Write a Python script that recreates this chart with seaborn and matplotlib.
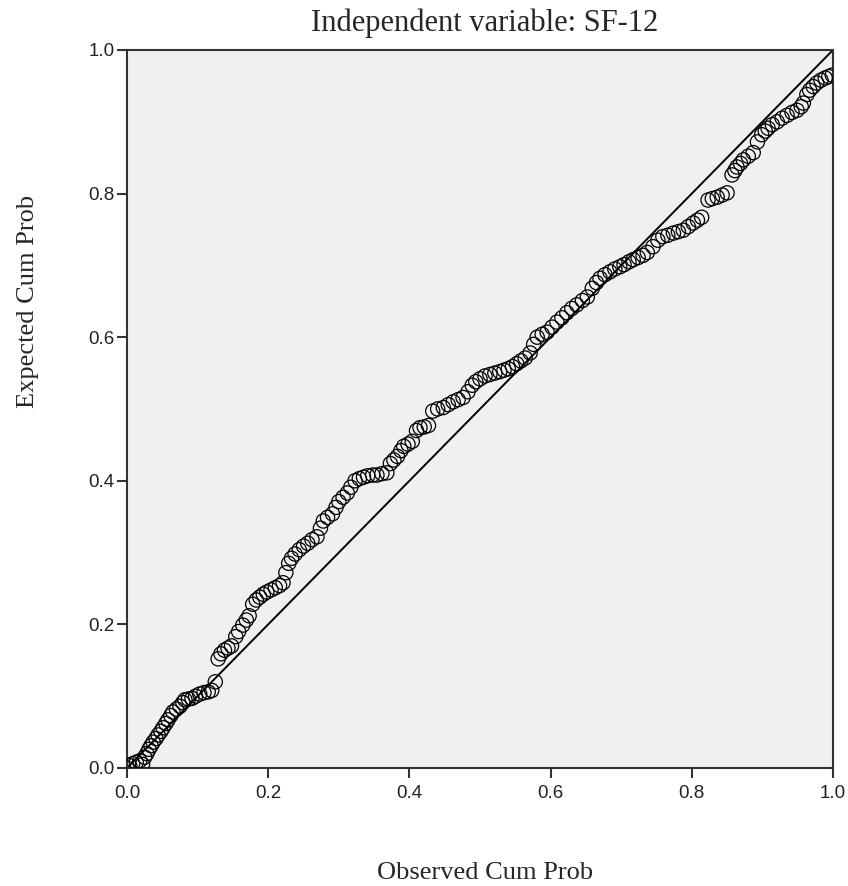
import matplotlib
matplotlib.use("Agg")
import matplotlib.pyplot as plt
import seaborn as sns

# P-P plot values
observed = [
    0.000, 0.004, 0.008, 0.013, 0.018, 0.022, 0.025, 0.028, 0.031, 0.034,
    0.037, 0.041, 0.044, 0.048, 0.051, 0.055, 0.058, 0.062, 0.065, 0.070,
    0.075, 0.079, 0.082, 0.087, 0.092, 0.097, 0.103, 0.109, 0.115, 0.120,
    0.125, 0.129, 0.133, 0.138, 0.143, 0.148, 0.154, 0.158, 0.164, 0.169,
    0.173, 0.178, 0.183, 0.188, 0.193, 0.198, 0.204, 0.210, 0.216, 0.221,
    0.225, 0.229, 0.233, 0.238, 0.244, 0.250, 0.256, 0.262, 0.269, 0.274,
    0.278, 0.284, 0.291, 0.296, 0.300, 0.306, 0.312, 0.317, 0.323, 0.329,
    0.335, 0.341, 0.348, 0.354, 0.361, 0.368, 0.373, 0.378, 0.383, 0.388,
    0.392, 0.398, 0.404, 0.410, 0.415, 0.421, 0.427, 0.433, 0.440, 0.448,
    0.455, 0.462, 0.469, 0.476, 0.483, 0.489, 0.494, 0.500, 0.507, 0.514,
    0.521, 0.528, 0.534, 0.540, 0.546, 0.552, 0.558, 0.564, 0.571, 0.576,
    0.581, 0.588, 0.595, 0.602, 0.609, 0.616, 0.623, 0.630, 0.637, 0.645,
    0.652, 0.659, 0.665, 0.670, 0.677, 0.684, 0.691, 0.698, 0.704, 0.711,
    0.717, 0.724, 0.731, 0.737, 0.745, 0.752, 0.759, 0.766, 0.774, 0.781,
    0.788, 0.795, 0.802, 0.808, 0.814, 0.823, 0.829, 0.836, 0.843, 0.850,
    0.857, 0.861, 0.864, 0.869, 0.873, 0.880, 0.887, 0.893, 0.899, 0.904,
    0.908, 0.914, 0.921, 0.928, 0.935, 0.942, 0.949, 0.955, 0.958, 0.963,
    0.967, 0.972, 0.977, 0.983, 0.989, 0.994, 0.999,
]
expected = [
    0.000, 0.003, 0.006, 0.008, 0.010, 0.005, 0.015, 0.020, 0.026, 0.031,
    0.036, 0.041, 0.046, 0.051, 0.056, 0.062, 0.067, 0.073, 0.078, 0.082,
    0.086, 0.091, 0.095, 0.096, 0.097, 0.100, 0.103, 0.105, 0.106, 0.108,
    0.120, 0.152, 0.159, 0.164, 0.167, 0.170, 0.183, 0.190, 0.199, 0.206,
    0.212, 0.228, 0.234, 0.238, 0.242, 0.245, 0.248, 0.251, 0.254, 0.258,
    0.272, 0.285, 0.292, 0.298, 0.304, 0.309, 0.313, 0.318, 0.322, 0.334,
    0.344, 0.349, 0.354, 0.363, 0.371, 0.377, 0.383, 0.391, 0.400, 0.403,
    0.405, 0.407, 0.408, 0.408, 0.410, 0.411, 0.424, 0.429, 0.434, 0.442,
    0.448, 0.451, 0.455, 0.470, 0.474, 0.475, 0.477, 0.497, 0.500, 0.502,
    0.506, 0.510, 0.513, 0.516, 0.524, 0.533, 0.538, 0.542, 0.546, 0.548,
    0.550, 0.552, 0.554, 0.556, 0.559, 0.563, 0.567, 0.571, 0.578, 0.590,
    0.600, 0.604, 0.607, 0.614, 0.621, 0.627, 0.634, 0.640, 0.645, 0.651,
    0.656, 0.668, 0.676, 0.682, 0.687, 0.691, 0.695, 0.698, 0.701, 0.705,
    0.708, 0.711, 0.714, 0.718, 0.726, 0.735, 0.740, 0.742, 0.745, 0.747,
    0.749, 0.754, 0.759, 0.763, 0.767, 0.791, 0.793, 0.795, 0.798, 0.801,
    0.826, 0.832, 0.837, 0.842, 0.847, 0.852, 0.857, 0.872, 0.882, 0.887,
    0.891, 0.896, 0.900, 0.905, 0.909, 0.913, 0.916, 0.921, 0.926, 0.938,
    0.944, 0.949, 0.954, 0.958, 0.961, 0.963, 0.965,
]
ref_line = [0.0, 1.0]
ticks = [0.0, 0.2, 0.4, 0.6, 0.8, 1.0]
tick_labels = ["0.0", "0.2", "0.4", "0.6", "0.8", "1.0"]

sns.set_style("ticks")
serif = ["Liberation Serif", "DejaVu Serif"]
sans = ["Liberation Sans", "DejaVu Sans"]

fig = plt.figure(figsize=(8.48, 8.86), dpi=100)
ax = fig.add_axes([0.1498, 0.1332, 0.8325, 0.8104])
ax.set_facecolor("#f0f0f0")

sns.lineplot(x=ref_line, y=ref_line, ax=ax, color="black", linewidth=1.4)
sns.scatterplot(x=observed, y=expected, ax=ax, marker="o", s=105, linewidth=0.9, zorder=3)
pts = ax.collections[-1]
pts.set_facecolor("none")
pts.set_edgecolor("black")
pts.set_clip_on(True)

ax.set_xlim(0, 1)
ax.set_ylim(0, 1)
ax.set_xticks(ticks)
ax.set_yticks(ticks)
ax.set_xticklabels(tick_labels, fontfamily=sans, fontsize=13.5)
ax.set_yticklabels(tick_labels, fontfamily=sans, fontsize=13.5)
ax.tick_params(direction="out", length=7.5, width=1.5, color="#333333", labelcolor="#222222")
ax.tick_params(axis="x", pad=5)
ax.tick_params(axis="y", pad=1.5)
for side in ["left", "right", "top", "bottom"]:
    ax.spines[side].set_visible(True)
    ax.spines[side].set_color("#333333")
    ax.spines[side].set_linewidth(1.5)

ax.set_xlabel("")
ax.set_ylabel("")
fig.text(0.572, 0.974, "Independent variable: SF-12", ha="center", va="center",
         fontfamily=serif, fontsize=22)
fig.text(0.572, 0.015, "Observed Cum Prob", ha="center", va="center",
         fontfamily=serif, fontsize=19)
fig.text(0.033, 0.66, "Expected Cum Prob", ha="center", va="center", rotation=90,
         fontfamily=serif, fontsize=19)

fig.savefig("out.png", dpi=100)
